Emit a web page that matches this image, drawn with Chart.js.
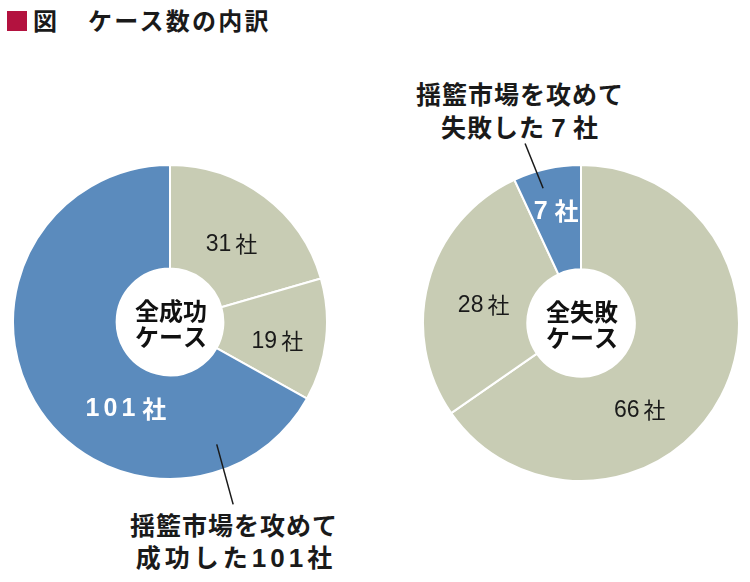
<!DOCTYPE html>
<html><head><meta charset="utf-8">
<script src="https://cdn.jsdelivr.net/npm/chart.js@4"></script>
<style>
body{margin:0;background:#fff;width:750px;height:582px;position:relative;overflow:hidden;font-family:"Noto Sans CJK JP",sans-serif;}
.box{position:absolute}
.t{position:absolute;font-weight:bold;color:#1a1a1a;white-space:nowrap;line-height:1}
.d{font-family:"Liberation Sans","Noto Sans CJK JP";font-size:26px}
</style></head><body>
<div style="position:absolute;left:7px;top:11px;width:20px;height:20px;background:#b3123f"></div>
<div class="t" style="left:33px;top:8px;font-size:24px">図</div>
<div class="t" style="left:88px;top:8px;font-size:24px;letter-spacing:2.3px">ケース数の内訳</div>

<div class="t" style="left:370px;top:81px;width:300px;text-align:center;font-size:25px;letter-spacing:1px">揺籃市場を攻めて</div>
<div class="t" style="left:370px;top:114px;width:300px;text-align:center;font-size:25px;letter-spacing:1px">失敗した<span class="d">&#8201;7&#8201;</span>社</div>
<div class="t" style="left:84px;top:512px;width:300px;text-align:center;font-size:25px;letter-spacing:1px">揺籃市場を攻めて</div>
<div class="t" style="left:86px;top:544px;width:300px;text-align:center;font-size:25px;letter-spacing:4px">成功した<span class="d">101</span>社</div>

<div class="box" style="left:12px;top:120px;width:316px;height:400px"><canvas id="c1"></canvas></div>
<div class="box" style="left:422px;top:120px;width:318px;height:400px"><canvas id="c2"></canvas></div>
<script>
const successCategories = ['31社', '19社', '101社'];
const successValues = [31, 19, 101];
const failCategories = ['66社', '28社', '7社'];
const failValues = [66, 28, 7];
const successCenter = ['全成功', 'ケース'];
const failCenter = ['全失敗', 'ケース'];

const GREEN = '#c8ccb4';
const BLUE = '#5b8bbd';

const overlay = {
  id: 'overlay',
  afterDatasetsDraw(chart, args, opts) {
    const ctx = chart.ctx;
    const meta = chart.getDatasetMeta(0);
    const el = meta.data[0];
    const cx = el.x, cy = el.y;
    const pt = (deg, r) => {
      const a = deg * Math.PI / 180 - Math.PI / 2;
      return [cx + r * Math.cos(a), cy + r * Math.sin(a)];
    };
    ctx.save();
    ctx.textBaseline = 'middle';
    const labels = chart.data.labels;
    labels.forEach((lab, i) => {
      const p = opts.pos[i];
      const [x, y] = pt(p[0], p[1]);
      const bold = opts.bold[i];
      const numFont = (bold ? 'bold 25px' : '23px') + ' "Liberation Sans", "Noto Sans CJK JP"';
      const shaFont = (bold ? 'bold 24px' : '22px') + ' "Noto Sans CJK JP"';
      const ls = bold ? '4px' : '0px';
      ctx.fillStyle = bold ? '#ffffff' : '#1a1a1a';
      const num = lab.replace('社', '');
      ctx.font = numFont;
      ctx.letterSpacing = ls;
      const wNum = ctx.measureText(num).width;
      ctx.font = shaFont;
      ctx.letterSpacing = '0px';
      const wSha = ctx.measureText('社').width;
      const gap = bold ? 3 : 4;
      const total = wNum + gap + wSha;
      ctx.textAlign = 'left';
      ctx.font = numFont;
      ctx.letterSpacing = ls;
      ctx.fillText(num, x - total / 2, y + 1);
      ctx.letterSpacing = '0px';
      ctx.font = shaFont;
      ctx.fillText('社', x - total / 2 + wNum + gap, y);
    });
    ctx.textAlign = 'center';
    ctx.fillStyle = '#111';
    ctx.font = 'bold 24px "Noto Sans CJK JP"';
    ctx.fillText(opts.center[0], cx + 1, cy - 11);
    ctx.fillText(opts.center[1], cx + 1, cy + 15);
    const [x1, y1] = pt(opts.leader[0], opts.leader[1]);
    const [x2, y2] = pt(opts.leader[2], opts.leader[3]);
    ctx.strokeStyle = '#1a1a1a';
    ctx.lineWidth = 1.5;
    ctx.beginPath();
    ctx.moveTo(x1, y1);
    ctx.lineTo(x2, y2);
    ctx.stroke();
    ctx.restore();
  }
};

function makeChart(id, labels, values, colors, pad, opts) {
  return new Chart(document.getElementById(id), {
    type: 'doughnut',
    data: {
      labels: labels,
      datasets: [{
        data: values,
        backgroundColor: colors,
        borderColor: '#ffffff',
        borderWidth: 2,
        hoverOffset: 0
      }]
    },
    options: {
      responsive: true,
      maintainAspectRatio: false,
      animation: false,
      cutout: '34%',
      layout: { padding: pad },
      plugins: {
        legend: { display: false },
        tooltip: { enabled: false },
        overlay: opts
      }
    },
    plugins: [overlay]
  });
}

makeChart('c1', successCategories, successValues, [GREEN, GREEN, BLUE],
  { top: 44, bottom: 40, left: 0, right: 0 }, {
  pos: [[38, 100], [100, 109], [207, 97]],
  bold: [false, false, true],
  center: successCenter,
  leader: [159.1, 131, 160.9, 193]
});
makeChart('c2', failCategories, failValues, [GREEN, GREEN, BLUE],
  { top: 44, bottom: 38, left: 0, right: 0 }, {
  pos: [[146, 105], [280.5, 99], [347.5, 115]],
  bold: [false, false, true],
  center: failCenter,
  leader: [344.3, 140, 342.7, 188]
});
</script>
</body></html>
